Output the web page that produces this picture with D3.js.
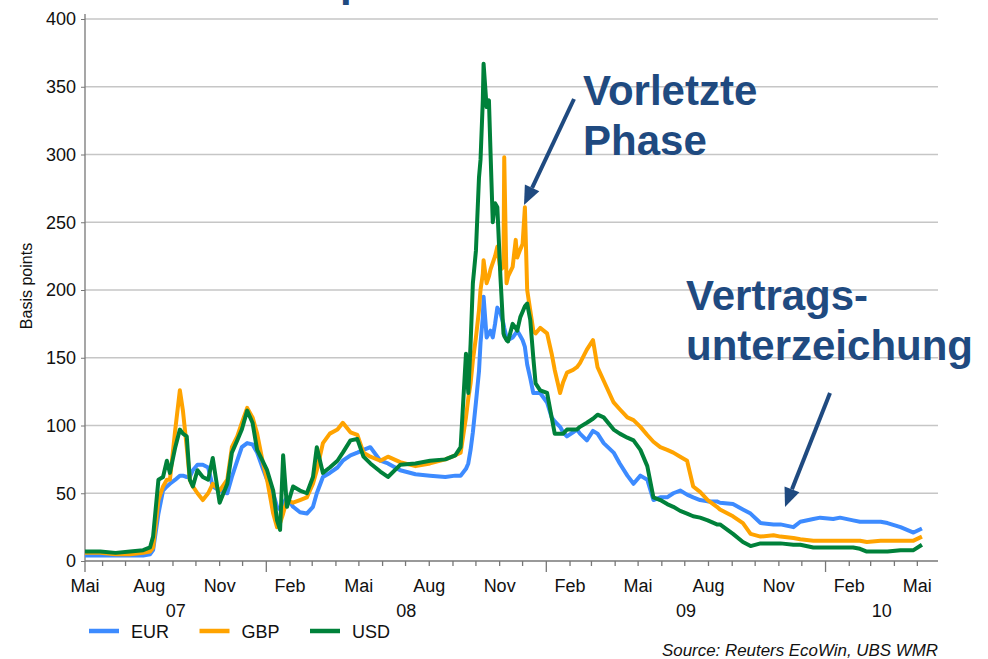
<!DOCTYPE html>
<html>
<head>
<meta charset="utf-8">
<script src="https://cdn.jsdelivr.net/npm/d3@7"></script>
<style>
  body { margin: 0; background: #fff; }
  svg { display: block; font-family: "Liberation Sans", Arial, sans-serif; }
</style>
</head>
<body>
<svg id="chart"></svg>
<script>
let w = 988
let h = 659

// dates (shared by the three series)
let dates = [
  "2007-05-09","2007-05-29","2007-06-18","2007-07-07","2007-07-24","2007-08-02","2007-08-06","2007-08-13","2007-08-19","2007-08-24",
  "2007-08-28","2007-09-04","2007-09-10","2007-09-14","2007-09-19","2007-09-23","2007-09-27","2007-10-03","2007-10-10","2007-10-17",
  "2007-10-23","2007-11-01","2007-11-11","2007-11-17","2007-11-24","2007-11-30","2007-12-07","2007-12-14","2007-12-20","2007-12-27",
  "2008-01-02","2008-01-10","2008-01-15","2008-01-19","2008-01-23","2008-01-28","2008-02-05","2008-02-14","2008-02-23",
  "2008-03-02","2008-03-07","2008-03-15","2008-03-24","2008-04-03","2008-04-10","2008-04-20","2008-04-29",
  "2008-05-07","2008-05-16","2008-05-29","2008-06-08","2008-06-24","2008-07-14","2008-08-02","2008-08-22",
  "2008-09-04","2008-09-11","2008-09-18","2008-09-21","2008-09-24","2008-09-27",
  "2008-10-01","2008-10-05","2008-10-07","2008-10-10","2008-10-11","2008-10-15","2008-10-18","2008-10-20","2008-10-23","2008-10-26","2008-10-29",
  "2008-11-02","2008-11-06","2008-11-07","2008-11-10","2008-11-12","2008-11-18","2008-11-22","2008-11-24","2008-11-28",
  "2008-12-01","2008-12-04","2008-12-07","2008-12-11","2008-12-15","2008-12-18","2008-12-24",
  "2009-01-02","2009-01-08","2009-01-12","2009-01-19","2009-01-23","2009-01-28","2009-02-05","2009-02-10","2009-02-14","2009-02-23",
  "2009-03-03","2009-03-09","2009-03-17","2009-03-30","2009-04-07","2009-04-17","2009-04-25",
  "2009-05-04","2009-05-13","2009-05-21","2009-05-30","2009-06-08","2009-06-16","2009-06-25",
  "2009-07-04","2009-07-12","2009-07-21","2009-07-31","2009-08-12","2009-08-16","2009-09-02","2009-09-15","2009-09-25",
  "2009-10-08","2009-10-25","2009-11-03","2009-11-20","2009-11-29","2009-12-16","2009-12-25",
  "2010-01-11","2010-01-20","2010-02-06","2010-02-15","2010-02-24","2010-03-14","2010-03-23","2010-04-09","2010-04-26","2010-05-07"
]

let eur = [
  4,4,4,4,4,5,8,35,52,55, 57,60,63,63,62,62,67,71,71,69, 55,52,50,62,74,84,87,86,80,69,
  60,50,40,38,42,47,40,36,35, 40,50,62,65,69,74,78,80, 82,84,74,72,67,64,63,62,
  63,63,68,72,82,95, 117,140,161,180,195,165,168,170,165,175,187,
  183,175,172,165,163,165,168,170,166, 163,158,145,135,124,124,124,
  117,106,103,99,95,92,95,97,94,89, 96,94,87,80,72,63,57, 63,60,45,47,47,50,52,
  49,47,45,44,44,43,42,38,35, 28,27,27,25,29,31,32,
  31,32,30,29,29,29,28,25,21,24
]

let gbp = [
  6,6,5,5,6,7,10,45,55,60, 60,97,126,111,84,60,55,50,45,50, 57,52,60,84,92,102,113,106,94,74,
  60,35,25,28,35,45,43,45,47, 57,67,87,94,97,102,95,93, 80,77,74,77,73,70,72,75,
  78,80,106,120,131,148, 165,185,200,212,222,205,210,215,220,225,232,
  215,217,298,205,210,217,237,224,230, 234,261,200,185,170,168,172,
  168,153,141,124,132,139,141,143,146,156, 163,143,133,117,112,106,104, 99,93,88,84,82,80,77,
  74,55,51,45,40,38,33,28,20, 18,19,18,17,16,15,15,
  15,15,15,15,14,15,15,15,15,18
]

let usd = [
  7,7,6,7,8,10,18,60,62,74, 65,84,97,94,92,60,55,67,62,60, 76,43,57,80,89,97,111,102,82,74,
  67,52,30,23,78,40,55,52,50, 62,84,65,69,74,80,89,90, 77,72,66,62,71,72,74,75,
  78,84,153,124,160,205, 229,283,296,340,367,335,340,303,250,264,261,
  210,168,166,163,162,175,172,170,180, 184,188,190,178,150,131,126,
  124,106,94,94,94,97,97,97,99,102, 105,108,106,97,94,91,89, 82,70,47,45,42,40,37,
  35,33,32,30,27,27,20,14,11, 13,13,13,12,12,10,10,
  10,10,10,9,7,7,7,8,8,12
]

let seriesNames = ["EUR", "GBP", "USD"]
let seriesColors = ["#3d8bff", "#ffa300", "#00813a"]
let yTicks = [0, 50, 100, 150, 200, 250, 300, 350, 400]
let monthNames = ["Jan","Feb","Mär","Apr","Mai","Jun","Jul","Aug","Sep","Okt","Nov","Dez"]
let yearLabels = ["07", "08", "09", "10"]

let parse = d3.timeParse("%Y-%m-%d")
let start = new Date(2007, 4, 9)
let end = new Date(2010, 4, 28)

let svg = d3.select("#chart").attr("width", w).attr("height", h)

let x = d3.scaleTime().domain([start, end]).range([85, 938])
let y = d3.scaleLinear().domain([0, 400]).range([561, 19])

// gridlines
svg.append("g")
  .selectAll("line")
  .data(yTicks.filter(d => d > 0))
  .join("line")
  .attr("x1", 85).attr("x2", 938)
  .attr("y1", d => y(d)).attr("y2", d => y(d))
  .attr("stroke", "#c6c6c6")
  .attr("stroke-width", 1.3)

// y axis
let yAxis = svg.append("g")
  .attr("transform", "translate(85,0)")
  .call(d3.axisLeft(y).tickValues(yTicks).tickSize(4).tickPadding(5))
yAxis.select(".domain").attr("stroke", "#777").attr("stroke-width", 1.3).attr("d", "M0,14V561")
yAxis.selectAll(".tick line").attr("stroke", "#777")
yAxis.selectAll("text").attr("font-size", 18).attr("fill", "#111").attr("font-family", "Liberation Sans, Arial")

svg.append("text")
  .attr("transform", "translate(32,286) rotate(-90)")
  .attr("text-anchor", "middle")
  .attr("font-size", 16)
  .attr("fill", "#111")
  .text("Basis points")

// x axis: monthly ticks, long ones at January
let months = d3.timeMonth.range(new Date(2007, 5, 1), end)
let xAxis = svg.append("g")
xAxis.append("line")
  .attr("x1", 85).attr("x2", 938).attr("y1", 561).attr("y2", 561)
  .attr("stroke", "#777").attr("stroke-width", 1.3)
xAxis.selectAll(".mt")
  .data([start].concat(months))
  .join("line")
  .attr("x1", d => x(d)).attr("x2", d => x(d))
  .attr("y1", 561)
  .attr("y2", d => (d === start || d.getMonth() === 0) ? 572 : 566)
  .attr("stroke", "#777").attr("stroke-width", 1.3)

let labelMonths = d3.timeMonth.range(new Date(2007, 4, 1), end).filter(d => d.getMonth() % 3 === 1)
xAxis.selectAll(".ml")
  .data(labelMonths)
  .join("text")
  .attr("x", d => Math.max(85, x(d)))
  .attr("y", 592)
  .attr("text-anchor", "middle")
  .attr("font-size", 18)
  .attr("fill", "#111")
  .text(d => monthNames[d.getMonth()])

xAxis.selectAll(".yl")
  .data(yearLabels)
  .join("text")
  .attr("x", d => {
    let yr = 2000 + (+d)
    let a = d3.max([new Date(yr, 0, 1), start])
    let b = d3.min([new Date(yr + 1, 0, 1), end])
    return (x(a) + x(b)) / 2
  })
  .attr("y", 617)
  .attr("text-anchor", "middle")
  .attr("font-size", 18)
  .attr("fill", "#111")
  .text(d => d)

// lines
let parsedDates = dates.map(parse)
let allSeries = [eur, gbp, usd]
let line = d3.line()
  .x((d, i) => x(parsedDates[i]))
  .y(d => y(d))

svg.append("g")
  .selectAll("path")
  .data(allSeries)
  .join("path")
  .attr("d", d => line(d))
  .attr("fill", "none")
  .attr("stroke", (d, i) => seriesColors[i])
  .attr("stroke-width", 4)
  .attr("stroke-linejoin", "round")

// legend
let legend = svg.append("g")
  .selectAll("g")
  .data(seriesNames)
  .join("g")
  .attr("transform", (d, i) => "translate(" + (89 + i * 110.5) + ",0)")
legend.append("line")
  .attr("x1", 0).attr("x2", 30).attr("y1", 631).attr("y2", 631)
  .attr("stroke", (d, i) => seriesColors[i])
  .attr("stroke-width", 4.5)
legend.append("text")
  .attr("x", 42).attr("y", 638)
  .attr("font-size", 18)
  .attr("fill", "#111")
  .text(d => d)

// cut-off title at the very top (only its descender shows in the reference)
svg.append("text")
  .attr("x", 340).attr("y", -4)
  .attr("font-size", 42).attr("font-weight", "bold")
  .attr("fill", "#1f4a80")
  .text("p")

// annotations
let navy = "#1f4a80"
let notes = [
  { lines: ["Vorletzte", "Phase"], x: 583, y: 105, size: 42 },
  { lines: ["Vertrags-", "unterzeichung"], x: 686, y: 310, size: 42 }
]
notes.forEach(n => {
  svg.append("text")
    .attr("x", n.x).attr("y", n.y)
    .attr("font-size", n.size).attr("font-weight", "bold")
    .attr("fill", navy)
    .selectAll("tspan")
    .data(n.lines)
    .join("tspan")
    .attr("x", n.x)
    .attr("dy", (d, i) => i === 0 ? 0 : 50)
    .text(d => d)
})

let arrows = [
  { x1: 574, y1: 99, x2: 524, y2: 205 },
  { x1: 830, y1: 393, x2: 785, y2: 507 }
]
arrows.forEach(a => {
  let ang = Math.atan2(a.y2 - a.y1, a.x2 - a.x1)
  let len = 19, hw = 8
  let bx = a.x2 - len * Math.cos(ang), by = a.y2 - len * Math.sin(ang)
  svg.append("line")
    .attr("x1", a.x1).attr("y1", a.y1).attr("x2", bx).attr("y2", by)
    .attr("stroke", navy).attr("stroke-width", 4)
  svg.append("polygon")
    .attr("points", [
      [a.x2, a.y2],
      [bx + hw * Math.sin(ang), by - hw * Math.cos(ang)],
      [bx - hw * Math.sin(ang), by + hw * Math.cos(ang)]
    ].map(p => p.join(",")).join(" "))
    .attr("fill", navy)
})

// source
svg.append("text")
  .attr("x", 938).attr("y", 656)
  .attr("text-anchor", "end")
  .attr("font-size", 16)
  .attr("font-style", "italic")
  .attr("fill", "#111")
  .attr("textLength", 276)
  .attr("lengthAdjust", "spacingAndGlyphs")
  .text("Source: Reuters EcoWin, UBS WMR")
</script>
</body>
</html>
